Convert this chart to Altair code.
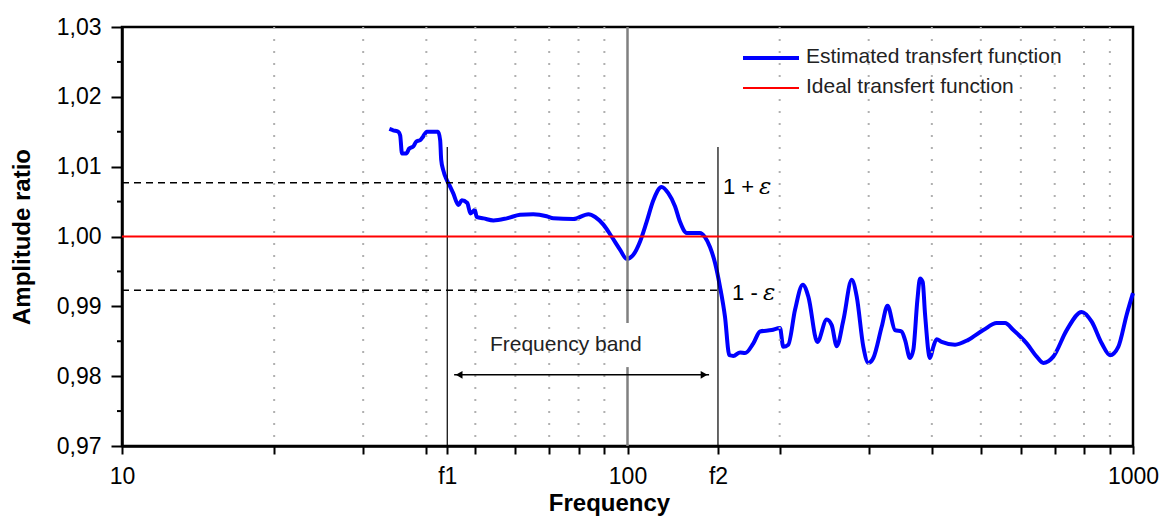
import altair as alt
import pandas as pd

# ---------------- data ----------------
freq = [33.8, 34.4, 35.2, 35.5, 35.8, 36.5, 37.0, 37.7, 38.2, 38.9,
        39.4, 40.1, 42.2, 42.6, 42.8, 43.2, 43.9, 44.6, 45.2, 46.3,
        47.0, 48.2, 48.9, 49.9, 50.3, 51.9, 54.3, 57.7, 61.3, 65.1,
        69.2, 71.3, 78.1, 83.7, 86.3, 89.6, 93.0, 96.7, 99.6, 102.7,
        105.9, 109.1, 112.5, 116.8, 120.4, 124.2, 127.0, 131.0, 139.1, 142.3,
        145.6, 149.0, 152.4, 155.9, 159.0, 162.0, 167.0, 170.8, 177.4, 182.9,
        192.9, 200.3, 203.3, 208.0, 214.5, 222.2, 227.9, 237.4, 247.8, 253.5,
        259.4, 267.3, 277.7, 284.1, 292.8, 299.5, 306.4, 318.4, 326.9, 338.2,
        348.6, 354.0, 362.2, 367.7, 374.5, 379.1, 383.7, 387.7, 396.6, 402.7,
        408.9, 418.3, 444.6, 472.3, 505.7, 537.6, 558.3, 579.8, 616.2, 644.9,
        664.6, 695.5, 739.4, 791.5, 828.5, 867.1, 900.7, 935.2, 971.6, 1000]
amp = [1.0154, 1.0152, 1.0150, 1.0145, 1.0119, 1.0119, 1.0126, 1.0129, 1.0136, 1.0138,
       1.0143, 1.0150, 1.0150, 1.0138, 1.0110, 1.0095, 1.0081, 1.0071, 1.0062, 1.0045,
       1.0052, 1.0048, 1.0033, 1.0038, 1.0028, 1.0026, 1.0023, 1.0026, 1.0031, 1.0032,
       1.0029, 1.0026, 1.0025, 1.0032, 1.0028, 1.0017, 1.0000, 0.9981, 0.9968, 0.9974,
       0.9993, 1.0021, 1.0052, 1.0071, 1.0062, 1.0043, 1.0021, 1.0005, 1.0005, 0.9999,
       0.9985, 0.9962, 0.9928, 0.9885, 0.9830, 0.9829, 0.9834, 0.9833, 0.9847, 0.9864,
       0.9866, 0.9869, 0.9842, 0.9845, 0.9895, 0.9931, 0.9914, 0.9849, 0.9881, 0.9873,
       0.9843, 0.9880, 0.9938, 0.9914, 0.9842, 0.9819, 0.9826, 0.9871, 0.9901, 0.9866,
       0.9864, 0.9852, 0.9826, 0.9838, 0.9909, 0.9940, 0.9935, 0.9890, 0.9826, 0.9842,
       0.9853, 0.9849, 0.9845, 0.9852, 0.9866, 0.9876, 0.9876, 0.9866, 0.9847, 0.9828,
       0.9819, 0.9828, 0.9866, 0.9892, 0.9878, 0.9847, 0.9830, 0.9842, 0.9888, 0.9919]

F1 = 44
F2 = 151
EPS = 0.0077
IDEAL = 1.0

x_minor = [20, 30, 40, 50, 60, 70, 80, 90, 200, 300, 400, 500, 600, 700, 800, 900]
x_major = [10, F1, 100, F2, 1000]
x_major_labels = ["10", "f1", "100", "f2", "1000"]
y_major = [0.97, 0.98, 0.99, 1.00, 1.01, 1.02, 1.03]
y_minor = [0.975, 0.985, 0.995, 1.005, 1.015, 1.025]

band_lines_top = 1.0128          # top of f1 / f2 markers
dash_upper_end = 144.3           # end of the 1+eps dashed line
dash_lower_end = 150.3           # end of the 1-eps dashed line
gray100_segments = [(1.03, 0.9876), (0.9813, 0.97)]
arrow_from, arrow_to, arrow_y = 45.4, 145.0, 0.9802
band_text = ("Frequency band", 75.5, 0.9845)
eps_plus = ("1 +", 154.5, 1.0071)
eps_minus = ("1 -", 161.0, 0.9919)

legend_names = ["Estimated transfert function", "Ideal transfert function"]

# ---------------- chart ----------------
W, H = 1011, 419
FONT = "Liberation Sans"

xs = alt.Scale(type="log", domain=[10, 1000], nice=False)
ys = alt.Scale(domain=[0.97, 1.03], nice=False, zero=False)

label_expr = " : ".join(
    f"datum.value == {v} ? '{l}'" for v, l in zip(x_major, x_major_labels)
) + " : ''"

x_axis = alt.Axis(
    values=sorted(x_minor + x_major), labelExpr=label_expr, grid=False,
    tickSize=8, tickWidth=2, labelFontSize=23, labelPadding=11, labelFlush=False,
    labelOverlap=False, title="Frequency", titleFontSize=24, titleFontWeight="bold",
    titleX=487, titleY=64, titleBaseline="alphabetic", titleAlign="center",
)
y_axis = alt.Axis(
    values=y_major, labelExpr="replace(format(datum.value, '.2f'), '.', ',')",
    grid=False, tickSize=11, tickWidth=2, labelFontSize=23, labelPadding=10,
    title="Amplitude ratio", titleFontSize=24, titleFontWeight="bold",
    titleX=-100, titleY=H / 2, titleAngle=270, titleAlign="center",
    titleBaseline="middle",
)


def X(field):
    return alt.X(field, scale=xs, axis=x_axis)


def Y(field):
    return alt.Y(field, scale=ys, axis=y_axis)


curve_df = pd.DataFrame({"f": freq, "a": amp})

grid = alt.Chart(pd.DataFrame({"f": x_minor})).mark_rule(
    color="#b0b0b0", strokeWidth=2, strokeDash=[2, 10]
).encode(x=X("f:Q"))

gray_df = pd.DataFrame({"f": [100] * len(gray100_segments),
                        "y1": [s[0] for s in gray100_segments],
                        "y2": [s[1] for s in gray100_segments]})
gray = alt.Chart(gray_df).mark_rule(color="#808080", strokeWidth=2.5).encode(
    x=X("f:Q"), y=Y("y1:Q"), y2="y2:Q")

band_df = pd.DataFrame({"f": [F1, F2], "y1": [band_lines_top] * 2, "y2": [0.97] * 2})
band = alt.Chart(band_df).mark_rule(color="black", strokeWidth=1.2).encode(
    x=X("f:Q"), y=Y("y1:Q"), y2="y2:Q")

dash_df = pd.DataFrame({"x1": [10, 10], "x2": [dash_upper_end, dash_lower_end],
                        "y": [IDEAL + EPS, IDEAL - EPS]})
dashes = alt.Chart(dash_df).mark_rule(color="black", strokeWidth=1.3, strokeDash=[7, 5]).encode(
    x=X("x1:Q"), x2="x2:Q", y=Y("y:Q"))

ideal = alt.Chart(pd.DataFrame({"x1": [10], "x2": [1000], "y": [IDEAL]})).mark_rule(
    color="#ff0000", strokeWidth=2.2).encode(x=X("x1:Q"), x2="x2:Q", y=Y("y:Q"))

curve = alt.Chart(curve_df).mark_line(
    color="#0000ff", strokeWidth=4, interpolate="monotone", strokeJoin="round"
).encode(x=X("f:Q"), y=Y("a:Q"))

yminor = alt.Chart(pd.DataFrame({"v": y_minor})).mark_rule(
    color="black", strokeWidth=2).encode(
    y=Y("v:Q"), x=alt.value(-5), x2=alt.value(0))


def eps_layers(item, gap):
    df = pd.DataFrame({"t": [item[0]], "f": [item[1]], "y": [item[2]]})
    txt = alt.Chart(df).mark_text(
        align="left", baseline="middle", fontSize=22, font=FONT, color="black").encode(
        x=X("f:Q"), y=Y("y:Q"), text="t:N")
    sym = alt.Chart(df).mark_text(
        align="left", baseline="middle", fontSize=23, font="DejaVu Serif",
        fontStyle="italic", color="black", dx=gap).encode(
        x=X("f:Q"), y=Y("y:Q"), text=alt.value("ε"))
    return [txt, sym]


band_lbl = alt.Chart(pd.DataFrame({"t": [band_text[0]], "f": [band_text[1]],
                                   "y": [band_text[2]]})).mark_text(
    align="center", baseline="middle", fontSize=21, font=FONT, color="#222222").encode(
    x=X("f:Q"), y=Y("y:Q"), text="t:N")

arrow_df = pd.DataFrame({"x1": [arrow_from], "x2": [arrow_to], "y": [arrow_y]})
arrow_line = alt.Chart(arrow_df).mark_rule(color="black", strokeWidth=1.3).encode(
    x=X("x1:Q"), x2="x2:Q", y=Y("y:Q"))
head_l = alt.Chart(arrow_df).mark_point(
    shape="triangle-left", filled=True, color="black", size=60, opacity=1, xOffset=5).encode(
    x=X("x1:Q"), y=Y("y:Q"))
head_r = alt.Chart(arrow_df).mark_point(
    shape="triangle-right", filled=True, color="black", size=60, opacity=1, xOffset=-5).encode(
    x=X("x2:Q"), y=Y("y:Q"))

# legend (drawn inside the plot, top right)
one = pd.DataFrame({"t": [legend_names[0]]})
two = pd.DataFrame({"t": [legend_names[1]]})
leg_blue = alt.Chart(one).mark_rule(color="#0000ff", strokeWidth=4).encode(
    x=alt.value(621), x2=alt.value(677), y=alt.value(31))
leg_red = alt.Chart(two).mark_rule(color="#ff0000", strokeWidth=2).encode(
    x=alt.value(621), x2=alt.value(677), y=alt.value(61))
leg_t1 = alt.Chart(one).mark_text(align="left", baseline="middle", fontSize=21,
                                  font=FONT, color="#222222").encode(
    x=alt.value(684), y=alt.value(30), text="t:N")
leg_t2 = alt.Chart(two).mark_text(align="left", baseline="middle", fontSize=21,
                                  font=FONT, color="#222222").encode(
    x=alt.value(684), y=alt.value(60), text="t:N")

chart = alt.layer(
    curve, grid, gray, band, dashes, ideal, yminor,
    *eps_layers(eps_plus, 36), *eps_layers(eps_minus, 31),
    band_lbl, arrow_line, head_l, head_r,
    leg_blue, leg_red, leg_t1, leg_t2,
).properties(
    width=W, height=H,
    autosize=alt.AutoSizeParams(type="none"),
    padding={"left": 114, "top": 19, "right": 30, "bottom": 70},
).configure_view(
    stroke="black", strokeWidth=2.5
).configure_axis(
    domainColor="black", domainWidth=2.5, tickColor="black",
    labelColor="black", titleColor="black", labelFont=FONT, titleFont=FONT,
)

chart.save("out.html", embed_options={"renderer": "svg", "actions": False})
